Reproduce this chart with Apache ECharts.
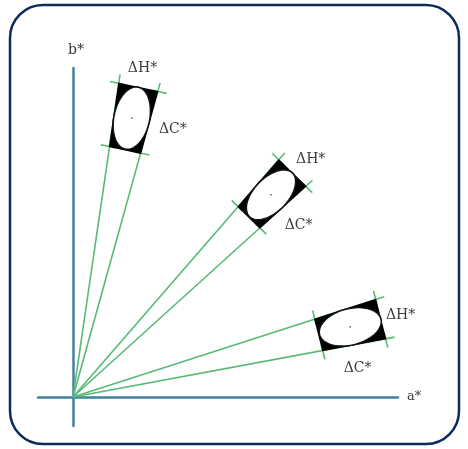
<!DOCTYPE html>
<html><head><meta charset="utf-8">
<script src="https://cdn.jsdelivr.net/npm/echarts@6/dist/echarts.min.js"></script>
<style>html,body{margin:0;padding:0;background:#fff}#c{width:468px;height:449px}</style>
</head><body><div id="c"></div>
<script>
// Tolerance regions in the a*b* plane (pixel-like units, origin at a*=b*=0)
const hueAngles = [78.1, 45.6, 14.2];      // hue angle h (deg) of each colour centre
const chromaCenters = [285, 283, 286];     // chroma C of each centre
const deltaC = [32, 31, 32];               // half chroma tolerance
const deltaH = [3.6, 3.45, 3.65];          // half hue tolerance (deg)
const hLabels = ['ΔH*', 'ΔH*', 'ΔH*'];
const cLabels = ['ΔC*', 'ΔC*', 'ΔC*'];
const axisNames = ['a*', 'b*'];

const AXIS = '#45809f', GREEN = '#58b977', FONT = '"DejaVu Serif", "Liberation Serif", serif';
const regions = hueAngles.map((h, i) => [h, chromaCenters[i], deltaC[i], deltaH[i], i]);

function renderItem(params, api) {
  const h = api.value(0), C = api.value(1), dC = api.value(2), dH = api.value(3), i = api.value(4);
  const pt = (c, hd) => { const r = hd * Math.PI / 180; return api.coord([c * Math.cos(r), c * Math.sin(r)]); };
  const o = api.coord([0, 0]);
  const o1 = pt(C + dC, h + dH), o2 = pt(C + dC, h - dH), i1 = pt(C - dC, h + dH), i2 = pt(C - dC, h - dH);
  const children = [];
  const gl = (a, b) => children.push({type: 'line', shape: {x1: a[0], y1: a[1], x2: b[0], y2: b[1]}, style: {stroke: GREEN, lineWidth: 1.6}});
  gl(o, pt(C + dC + 9, h + dH));
  gl(o, pt(C + dC + 9, h - dH));
  const tick = (p, q) => { const dx = p[0] - q[0], dy = p[1] - q[1], L = Math.hypot(dx, dy); const ux = dx / L, uy = dy / L;
    gl([p[0] - ux * 6, p[1] - uy * 6], [p[0] + ux * 9, p[1] + uy * 9]); };
  tick(o1, o2); tick(o2, o1); tick(i1, i2); tick(i2, i1);
  children.push({type: 'polygon', shape: {points: [o1, o2, i2, i1]}, style: {fill: '#000', stroke: '#000', lineWidth: 1.2}});
  const c = pt(C, h);
  const pr = pt(C + dC, h);
  const Lr = Math.hypot(pr[0] - c[0], pr[1] - c[1]);
  const ra = Lr * 0.99;
  const ux = (pr[0] - c[0]) / Lr, uy = (pr[1] - c[1]) / Lr;
  const pa = pt(C, h + dH), pb = pt(C, h - dH);
  const rb = Math.hypot(pa[0] - pb[0], pa[1] - pb[1]) / 2 * 1.0;
  const pts = [];
  for (let k = 0; k < 90; k++) { const t = k / 90 * 2 * Math.PI; const a = Math.cos(t) * ra, b = Math.sin(t) * rb;
    pts.push([c[0] + a * ux - b * uy, c[1] + a * uy + b * ux]); }
  children.push({type: 'polygon', shape: {points: pts}, style: {fill: '#fff', stroke: '#111', lineWidth: 1.6}});
  children.push({type: 'circle', shape: {cx: c[0], cy: c[1], r: 0.9}, style: {fill: '#666'}});
  const lh = pt(C + dC + 20, h), lc = pt(C, h - dH - 5);
  children.push({type: 'text', style: {text: hLabels[i], x: lh[0] + (i === 1 ? 4 : 0), y: lh[1] + 1, fill: '#3a3a3a', font: '14px ' + FONT, align: 'center', verticalAlign: 'middle'}});
  children.push({type: 'text', style: {text: cLabels[i], x: lc[0], y: lc[1] - 1, fill: '#3a3a3a', font: '14px ' + FONT, align: 'center', verticalAlign: 'middle'}});
  return {type: 'group', children};
}

const chart = echarts.init(document.getElementById('c'), null, {renderer: 'canvas'});
chart.setOption({
  backgroundColor: '#fff',
  animation: false,
  graphic: [{type: 'rect', shape: {x: 10, y: 5, width: 449, height: 439, r: 33}, style: {fill: 'none', stroke: '#0c2b5b', lineWidth: 2.5}, z: 100}],
  grid: {left: 38, right: 70, top: 68, bottom: 23},
  xAxis: {type: 'value', min: -35, max: 325, name: axisNames[0], nameLocation: 'end', nameGap: 9,
    nameTextStyle: {fontFamily: FONT, fontSize: 13, color: '#3a3a3a', verticalAlign: 'middle'},
    axisLine: {onZero: true, lineStyle: {color: AXIS, width: 2.5}}, axisTick: {show: false}, axisLabel: {show: false}, splitLine: {show: false}},
  yAxis: {type: 'value', min: -29, max: 329, name: axisNames[1], nameLocation: 'end', nameGap: 11,
    nameTextStyle: {fontFamily: FONT, fontSize: 14, color: '#3a3a3a', padding: [0, 0, 0, 6]},
    axisLine: {onZero: true, lineStyle: {color: AXIS, width: 2.5}}, axisTick: {show: false}, axisLabel: {show: false}, splitLine: {show: false}},
  series: [{type: 'custom', renderItem, data: regions, clip: false}]
});
</script></body></html>
